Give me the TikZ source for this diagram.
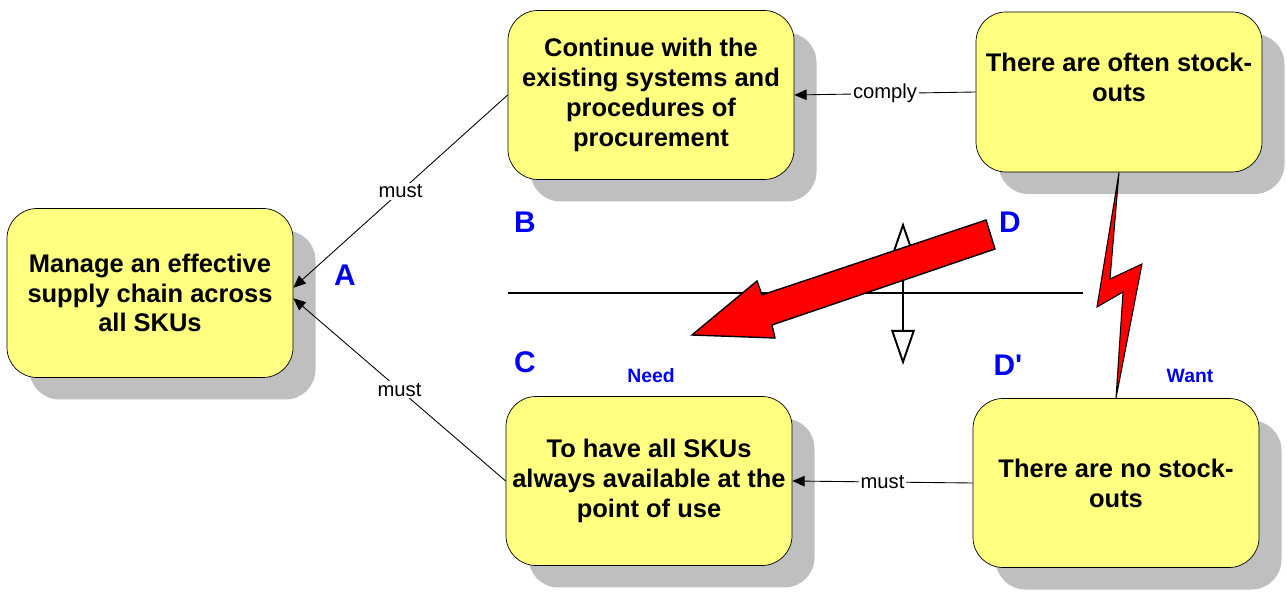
\documentclass[tikz,border=0pt]{standalone}
\usepackage{fontspec}
\setmainfont{Liberation Sans}
\usepackage{tikz}
\usetikzlibrary{positioning,arrows.meta,shadows,calc}
\definecolor{boxyellow}{RGB}{255,255,128}
\definecolor{lblblue}{RGB}{0,0,245}
\definecolor{boltred}{RGB}{255,0,0}
\tikzset{
box/.style={
draw,
rounded corners=0.6cm,
minimum width=5.72cm,
minimum height=3.38cm,
align=center,
fill=boxyellow,
font=\fontsize{14.5}{17}\selectfont\bfseries,
drop shadow={fill=black!25,opacity=1,shadow xshift=0.45cm,shadow yshift=-0.44cm}
},
letter/.style={
text=lblblue,
font=\fontsize{17}{20}\selectfont\bfseries
},
tag/.style={
text=lblblue,
font=\fontsize{11}{13}\selectfont\bfseries
},
arrow/.style={
-{Triangle[length=7pt,width=6pt]},
line width=0.5pt
},
edgelabel/.style={
fill=white,
inner sep=1pt,
font=\fontsize{11.5}{13}\selectfont
}
}

\begin{document}
\begin{tikzpicture}
\useasboundingbox (0,0) rectangle (25.74,11.86);

\node[box](A) at (3.00,6.00){Manage an effective\\supply chain across\\all SKUs};
\node[box](B) at (13.02,9.96){Continue with the\\existing systems and\\procedures of\\procurement};
\node[box](C) at (12.98,2.24){To have all SKUs\\always available at the\\point of use};
\node[box,minimum height=3.2cm](D) at (22.38,10.02){There are often stock-\\outs\\\mbox{}};
\node[box](Dp) at (22.32,2.20){There are no stock-\\outs};

\node[letter](lA) at (6.90,6.36){A};
\node[letter](lB) at (10.50,7.42){B};
\node[letter](lC) at (10.50,4.62){C};
\node[letter](lD) at (20.20,7.42){D};
\node[letter](lDp) at (20.16,4.56){D\textquotesingle};
\node[tag](need) at (13.02,4.34){Need};
\node[tag](want) at (23.80,4.34){Want};

\foreach \x/\s in {B/3pt,C/-3pt}
\draw[arrow](\x.west)--node[edgelabel]{must}([yshift=\s]A.east);
\draw[arrow](D.west)--node[edgelabel]{comply}(B.east);
\draw[arrow](Dp.west)--node[edgelabel]{must}(C.east);

\coordinate (lineL) at (10.16,6.00);
\coordinate (lineR) at (21.66,6.00);
\coordinate (vtop) at (18.06,7.42);
\coordinate (vbot) at (18.06,4.56);
\draw[line width=1.7pt](lineL)--(lineR);
\draw[line width=1.1pt,{Triangle[open,length=20pt,width=13.5pt]}-{Triangle[open,length=20pt,width=13.5pt]}](vtop)--(vbot);

\draw[fill=boltred,line width=0.8pt,line join=miter]
(19.72,7.46)--(19.90,6.88)--(15.44,5.36)--(15.50,5.10)--(13.84,5.16)--(15.14,6.24)--(15.24,5.96)--cycle;

\draw[fill=boltred,line width=0.6pt]
(D.south)--(22.20,6.28)--(22.84,6.58)--(Dp.north)--(22.46,6.02)--(21.94,5.72)--cycle;
\end{tikzpicture}
\end{document}
